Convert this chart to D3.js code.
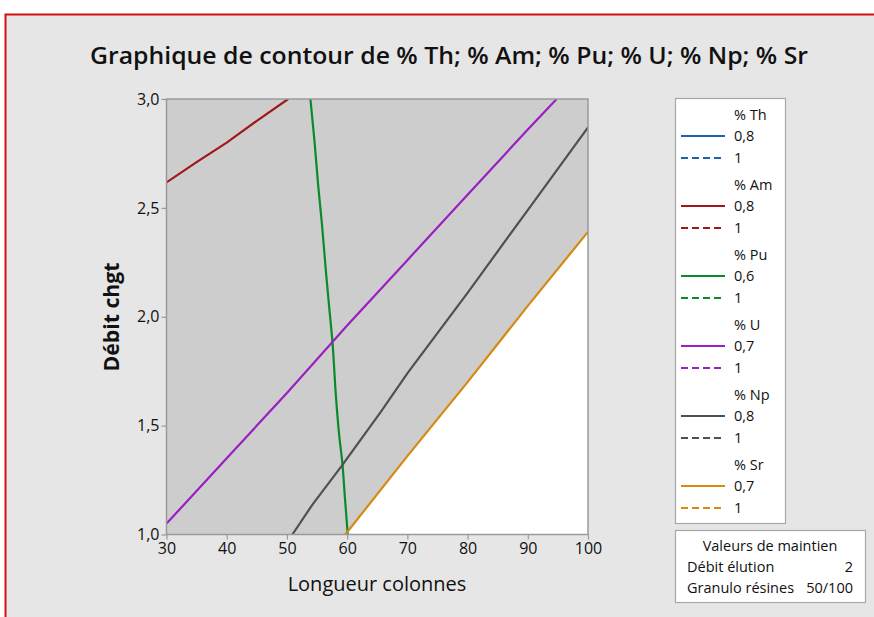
<!DOCTYPE html>
<html><head><meta charset="utf-8">
<script src="https://cdn.jsdelivr.net/npm/d3@7"></script>
<style>
html,body{margin:0;padding:0;background:#fff;}
svg{display:block;font-family:"Open Sans","Noto Sans",sans-serif;}
</style></head>
<body><svg id="c" width="874" height="617"></svg>
<script>
// ---- data ----
const title = "Graphique de contour de % Th; % Am; % Pu; % U; % Np; % Sr";
const xLabel = "Longueur colonnes";
const yLabel = "Débit chgt";
const xTicks = [30,40,50,60,70,80,90,100];
const yTicks = [1.0,1.5,2.0,2.5,3.0];
const xDomain = [30,100];
const yDomain = [1.0,3.0];

const amLine = [[30,2.617],[35,2.71],[40,2.80],[45,2.90],[50.2,3.0]];
const puLine = [[53.9,3.0],[54.6,2.8],[55.2,2.6],[55.8,2.43],[56.5,2.2],[57.0,2.05],[57.6,1.87],[58.1,1.65],[58.7,1.45],[59.2,1.33],[59.6,1.18],[60.1,1.0]];
const uLine = [[30,1.05],[40,1.35],[50,1.65],[60,1.96],[70,2.26],[80,2.56],[90,2.86],[94.8,3.0]];
const npLine = [[50.9,1.0],[54.3,1.14],[59.1,1.315],[65.5,1.56],[70,1.74],[80,2.11],[90,2.49],[100,2.87]];
const srLine = [[59.7,1.0],[70,1.36],[80,1.70],[90,2.05],[100,2.39]];

const legendGroups = ["% Th","% Am","% Pu","% U","% Np","% Sr"];
const legendLevels = [["0,8","1"],["0,8","1"],["0,6","1"],["0,7","1"],["0,8","1"],["0,7","1"]];
const legendColors = ["#1f5fb0","#a01818","#0a8a2a","#9a1fc2","#505050","#d68a10"];
const holdTitle = "Valeurs de maintien";
const holdNames = ["Débit élution","Granulo résines"];
const holdValues = ["2","50/100"];

// ---- drawing ----
const svg = d3.select("#c");
svg.append("rect").attr("x",5.5).attr("y",14.5).attr("width",900).attr("height",700)
  .attr("fill","#e6e6e6").attr("stroke","#d01010").attr("stroke-width",2);

const L=166.5,R=588,T=99,B=534.5;
const x = d3.scaleLinear().domain(xDomain).range([L,R]);
const y = d3.scaleLinear().domain(yDomain).range([B,T]);

svg.append("text").attr("x",449).attr("y",64).attr("text-anchor","middle")
  .attr("font-size",24).attr("font-weight",600).attr("fill","#111")
  .attr("textLength",718).attr("lengthAdjust","spacingAndGlyphs").text(title);

// plot background: white, then gray above Sr line
svg.append("rect").attr("x",L).attr("y",T).attr("width",R-L).attr("height",B-T).attr("fill","#ffffff");
const grayPoly = [[xDomain[0],yDomain[0]]].concat(srLine).concat([[xDomain[1],yDomain[1]],[xDomain[0],yDomain[1]]]);
svg.append("path").attr("d",d3.line().x(d=>x(d[0])).y(d=>y(d[1]))(grayPoly)+"Z").attr("fill","#cdcdcd");

const line = d3.line().x(d=>x(d[0])).y(d=>y(d[1])).curve(d3.curveMonotoneY);
const lineX = d3.line().x(d=>x(d[0])).y(d=>y(d[1]));
svg.append("clipPath").attr("id","pc").append("rect").attr("x",L).attr("y",T).attr("width",R-L).attr("height",B-T);
const g = svg.append("g").attr("clip-path","url(#pc)");
[[amLine,1],[puLine,2],[uLine,3],[npLine,4],[srLine,5]].forEach(([d,i])=>{
  g.append("path").attr("d", i===2? line(d): lineX(d)).attr("fill","none")
   .attr("stroke",legendColors[i]).attr("stroke-width",2.2);
});

// frame
svg.append("rect").attr("x",L).attr("y",T).attr("width",R-L).attr("height",B-T)
  .attr("fill","none").attr("stroke","#9a9a9a").attr("stroke-width",1.5);

const xa = svg.append("g").attr("transform",`translate(0,${B})`)
  .call(d3.axisBottom(x).tickValues(xTicks).tickSize(5).tickPadding(3).tickFormat(d3.format("d")));
const ya = svg.append("g").attr("transform",`translate(${L},0)`)
  .call(d3.axisLeft(y).tickValues(yTicks).tickSize(5).tickPadding(2).tickFormat(d=>d.toFixed(1).replace(".",",")));
[xa,ya].forEach(a=>{
  a.select(".domain").remove();
  a.selectAll("line").attr("stroke","#9a9a9a").attr("stroke-width",1.2);
  a.selectAll("text").attr("font-size",16).attr("fill","#111").attr("font-family","'Open Sans',sans-serif");
});

svg.append("text").attr("x",377).attr("y",591).attr("text-anchor","middle")
  .attr("font-size",20).attr("fill","#111").text(xLabel);
svg.append("text").attr("transform","translate(119,317) rotate(-90)").attr("text-anchor","middle")
  .attr("font-size",21).attr("font-weight",700).attr("fill","#111")
  .attr("textLength",109).attr("lengthAdjust","spacingAndGlyphs").text(yLabel);

// legend
svg.append("rect").attr("x",675.5).attr("y",98.5).attr("width",110).attr("height",425)
  .attr("fill","#fff").attr("stroke","#a8a8a8").attr("stroke-width",1.2);
legendGroups.forEach((gname,i)=>{
  const y0 = 115 + i*70;
  svg.append("text").attr("x",734).attr("y",y0+5).attr("font-size",14.5).attr("fill","#111").text(gname);
  legendLevels[i].forEach((lv,j)=>{
    const yy = y0 + 21 + j*22;
    svg.append("line").attr("x1",681).attr("x2",725).attr("y1",yy).attr("y2",yy)
      .attr("stroke",legendColors[i]).attr("stroke-width",2.2).attr("stroke-dasharray",j===1?"7,4":null);
    svg.append("text").attr("x",734).attr("y",yy+5).attr("font-size",14.5).attr("fill","#111").text(lv);
  });
});

// hold values box
svg.append("rect").attr("x",675.5).attr("y",530.5).attr("width",190).attr("height",72)
  .attr("fill","#fff").attr("stroke","#a8a8a8").attr("stroke-width",1.2);
svg.append("text").attr("x",770).attr("y",551).attr("text-anchor","middle").attr("font-size",14.5).attr("fill","#111").text(holdTitle);
holdNames.forEach((n,i)=>{
  svg.append("text").attr("x",687).attr("y",572+i*21).attr("font-size",14.5).attr("fill","#111").text(n);
  svg.append("text").attr("x",853).attr("y",572+i*21).attr("text-anchor","end").attr("font-size",14.5).attr("fill","#111").text(holdValues[i]);
});
</script></body></html>
